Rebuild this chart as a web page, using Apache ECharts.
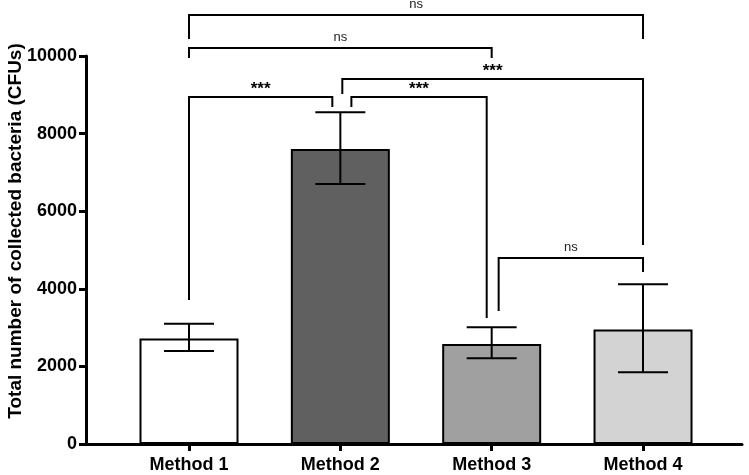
<!DOCTYPE html>
<html><head><meta charset="utf-8">
<script src="https://cdn.jsdelivr.net/npm/echarts@6/dist/echarts.min.js"></script>
<style>html,body{margin:0;padding:0;background:#fff}#c{width:749px;height:475px}</style>
</head><body><div id="c"></div>
<script>
const categories = ['Method 1', 'Method 2', 'Method 3', 'Method 4'];
const means = [2720, 7600, 2580, 2950];
const errLow = [2400, 6700, 2210, 1850];
const errHigh = [3100, 8550, 3010, 4120];
const barColors = ['#ffffff', '#606060', '#a0a0a0', '#d3d3d3'];
const yTicks = [0, 2000, 4000, 6000, 8000, 10000];
// significance brackets: [xLeft, xRight, yLine, yLeftEnd, yRightEnd] (category index, data value)
const bracketPos = [
  [0, 3, 11057, 10438, 10438],
  [0, 2, 10206, 9948, 9948],
  [1.013, 3, 9407, 9021, 5129],
  [0, 0.947, 8943, 3711, 8686],
  [1.073, 1.967, 8943, 8686, 3247],
  [2.046, 3, 4794, 3428, 4433]
];
const bracketLabels = ['ns', 'ns', '***', '***', '***', 'ns'];

const FONT = '"Liberation Sans", Arial, Helvetica, sans-serif';
const chart = echarts.init(document.getElementById('c'), null, {renderer: 'canvas'});

chart.setOption({
  animation: false,
  backgroundColor: '#ffffff',
  grid: {left: 86, right: 7, top: 56, bottom: 31, containLabel: false, outerBoundsMode: 'none'},
  xAxis: {
    type: 'value', min: -0.6806, max: 3.654,
    splitLine: {show: false},
    axisLine: {show: true, onZero: false, lineStyle: {color: '#000', width: 3}},
    axisTick: {show: true, customValues: [0, 1, 2, 3], length: 7, lineStyle: {color: '#000', width: 3}},
    axisLabel: {
      show: true, customValues: [0, 1, 2, 3], margin: 12,
      formatter: v => categories[Math.round(v)],
      fontFamily: FONT, fontSize: 18, fontWeight: 'bold', color: '#000'
    }
  },
  yAxis: {
    type: 'value', min: yTicks[0], max: yTicks[yTicks.length - 1], interval: 2000,
    splitLine: {show: false},
    axisLine: {show: true, onZero: false, lineStyle: {color: '#000', width: 3}},
    axisTick: {show: true, length: 7, lineStyle: {color: '#000', width: 3}},
    axisLabel: {margin: 9, formatter: v => String(v), fontFamily: FONT, fontSize: 18, fontWeight: 'bold', color: '#000'},
    name: 'Total number of collected bacteria (CFUs)',
    nameLocation: 'middle', nameGap: 61, nameMoveOverlap: false,
    nameTextStyle: {fontFamily: FONT, fontSize: 19, fontWeight: 'bold', color: '#000', padding: [0, 0, 0, 38]}
  },
  series: [
    {
      type: 'bar',
      barWidth: 99,
      data: means.map((v, i) => ({value: [i, v], itemStyle: {color: barColors[i]}})),
      itemStyle: {borderColor: '#000', borderWidth: 2},
      z: 2
    },
    {
      type: 'custom',
      z: 3,
      clip: false,
      data: errLow.map((l, i) => [i, l, errHigh[i]]),
      encode: {x: 0, y: [1, 2]},
      renderItem: function (params, api) {
        const x = api.value(0);
        const lo = api.coord([x, api.value(1)]);
        const hi = api.coord([x, api.value(2)]);
        const hw = 25;
        const st = {stroke: '#000', lineWidth: 2, fill: null};
        return {
          type: 'group',
          children: [
            {type: 'line', shape: {x1: hi[0], y1: hi[1], x2: lo[0], y2: lo[1]}, style: st},
            {type: 'line', shape: {x1: hi[0] - hw, y1: hi[1], x2: hi[0] + hw, y2: hi[1]}, style: st},
            {type: 'line', shape: {x1: lo[0] - hw, y1: lo[1], x2: lo[0] + hw, y2: lo[1]}, style: st}
          ]
        };
      }
    },
    {
      type: 'custom',
      z: 4,
      clip: false,
      data: bracketPos,
      encode: {x: [0, 1], y: [2, 3, 4]},
      renderItem: function (params, api) {
        const xl = api.value(0), xr = api.value(1);
        const a = api.coord([xl, api.value(3)]);
        const b = api.coord([xl, api.value(2)]);
        const c = api.coord([xr, api.value(2)]);
        const d = api.coord([xr, api.value(4)]);
        const label = bracketLabels[params.dataIndex];
        const star = label.indexOf('*') >= 0;
        return {
          type: 'group',
          children: [
            {type: 'polyline', shape: {points: [a, b, c, d]}, style: {stroke: '#000', lineWidth: 2, fill: null}},
            {type: 'text', style: {
              text: label, x: (b[0] + c[0]) / 2, y: b[1] - (star ? 8 : 11),
              align: 'center', verticalAlign: 'middle',
              fontFamily: FONT, fontSize: star ? 17 : 13, fontWeight: star ? 'bold' : 'normal',
              fill: star ? '#000' : '#222'
            }}
          ]
        };
      }
    }
  ]
});
</script></body></html>
